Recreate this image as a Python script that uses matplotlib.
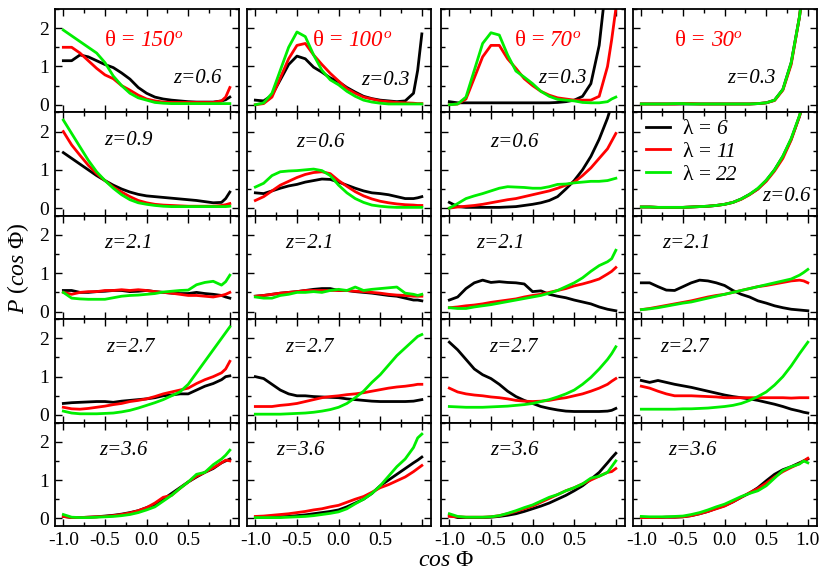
import matplotlib
matplotlib.use("Agg")
import matplotlib.pyplot as plt
from matplotlib.ticker import MultipleLocator

plt.rcParams["font.family"] = ["Liberation Serif", "DejaVu Serif"]
plt.rcParams["mathtext.fontset"] = "custom"
plt.rcParams["mathtext.rm"] = "Liberation Serif"
plt.rcParams["mathtext.it"] = "Liberation Serif:italic"

# cos(Phi) sample points
cos_phi = [-1.0, -0.9, -0.8, -0.7, -0.6, -0.5, -0.4, -0.3, -0.2, -0.1, 0.0,
           0.1, 0.2, 0.3, 0.4, 0.5, 0.6, 0.7, 0.8, 0.9, 0.95, 1.0]

thetas = ["150", "100", "70", "30"]
lambdas = ["6", "11", "22"]
z_labels = [
    ["0.6", "0.3", "0.3", "0.3"],
    ["0.9", "0.6", "0.6", "0.6"],
    ["2.1", "2.1", "2.1", "2.1"],
    ["2.7", "2.7", "2.7", "2.7"],
    ["3.6", "3.6", "3.6", "3.6"],
]

# row 1
th150_r1_l6 = [1.15, 1.15, 1.3, 1.25, 1.15, 1.05, 0.97, 0.83, 0.67, 0.45, 0.3, 0.2, 0.15, 0.12, 0.1, 0.08, 0.07, 0.07, 0.07, 0.1, 0.13, 0.2]
th150_r1_l11 = [1.5, 1.5, 1.35, 1.15, 0.95, 0.78, 0.68, 0.5, 0.38, 0.25, 0.15, 0.1, 0.07, 0.06, 0.06, 0.06, 0.06, 0.06, 0.06, 0.1, 0.2, 0.45]
th150_r1_l22 = [1.95, 1.8, 1.65, 1.5, 1.35, 1.1, 0.75, 0.5, 0.3, 0.18, 0.12, 0.06, 0.04, 0.03, 0.03, 0.03, 0.03, 0.03, 0.03, 0.03, 0.03, 0.03]
th100_r1_l6 = [0.12, 0.1, 0.25, 0.65, 1.05, 1.27, 1.2, 0.98, 0.85, 0.7, 0.6, 0.45, 0.33, 0.22, 0.16, 0.12, 0.1, 0.08, 0.1, 0.3, 0.9, 1.85]
th100_r1_l11 = [0.0, 0.03, 0.2, 0.7, 1.2, 1.55, 1.6, 1.3, 1.05, 0.82, 0.62, 0.42, 0.3, 0.2, 0.15, 0.1, 0.08, 0.06, 0.05, 0.04, 0.03, 0.03]
th100_r1_l22 = [0.0, 0.05, 0.3, 0.9, 1.5, 1.9, 1.78, 1.3, 0.9, 0.65, 0.52, 0.35, 0.22, 0.12, 0.07, 0.04, 0.02, 0.02, 0.02, 0.02, 0.02, 0.02]
th70_r1_l6 = [0.08, 0.05, 0.05, 0.05, 0.05, 0.05, 0.05, 0.05, 0.05, 0.05, 0.05, 0.05, 0.05, 0.06, 0.08, 0.12, 0.22, 0.55, 1.55, 3.5, 5.0, 6.0]
th70_r1_l11 = [0.0, 0.02, 0.15, 0.7, 1.25, 1.55, 1.55, 1.2, 0.95, 0.68, 0.5, 0.35, 0.25, 0.18, 0.15, 0.12, 0.12, 0.12, 0.22, 1.0, 1.7, 2.5]
th70_r1_l22 = [0.0, 0.02, 0.2, 0.9, 1.6, 1.88, 1.82, 1.3, 0.88, 0.72, 0.55, 0.35, 0.22, 0.14, 0.12, 0.1, 0.06, 0.05, 0.05, 0.08, 0.15, 0.2]
th30_r1_l6 = [0.02, 0.02, 0.02, 0.02, 0.02, 0.02, 0.02, 0.02, 0.02, 0.02, 0.02, 0.02, 0.02, 0.02, 0.03, 0.05, 0.12, 0.4, 1.1, 2.3, 3.2, 4.0]
th30_r1_l11 = [0.02, 0.02, 0.02, 0.02, 0.02, 0.03, 0.03, 0.02, 0.02, 0.02, 0.02, 0.02, 0.02, 0.02, 0.03, 0.05, 0.11, 0.38, 1.05, 2.3, 3.2, 4.0]
th30_r1_l22 = [0.02, 0.02, 0.02, 0.02, 0.03, 0.03, 0.02, 0.02, 0.02, 0.02, 0.02, 0.02, 0.02, 0.02, 0.03, 0.05, 0.12, 0.4, 1.1, 2.3, 3.2, 4.0]

# row 2
th150_r2_l6 = [1.45, 1.3, 1.15, 1.0, 0.85, 0.72, 0.6, 0.5, 0.42, 0.36, 0.32, 0.3, 0.28, 0.26, 0.24, 0.22, 0.2, 0.17, 0.14, 0.15, 0.25, 0.42]
th150_r2_l11 = [2.0, 1.65, 1.38, 1.12, 0.9, 0.72, 0.55, 0.42, 0.3, 0.2, 0.14, 0.1, 0.08, 0.07, 0.06, 0.05, 0.05, 0.05, 0.05, 0.07, 0.09, 0.12]
th150_r2_l22 = [2.3, 1.95, 1.6, 1.25, 0.95, 0.72, 0.52, 0.35, 0.22, 0.14, 0.1, 0.07, 0.05, 0.04, 0.04, 0.04, 0.04, 0.04, 0.04, 0.04, 0.04, 0.05]
th100_r2_l6 = [0.4, 0.38, 0.45, 0.52, 0.58, 0.62, 0.68, 0.72, 0.76, 0.75, 0.68, 0.6, 0.52, 0.45, 0.4, 0.38, 0.35, 0.3, 0.25, 0.25, 0.27, 0.3]
th100_r2_l11 = [0.2, 0.3, 0.45, 0.6, 0.7, 0.8, 0.88, 0.93, 0.95, 0.9, 0.72, 0.57, 0.43, 0.32, 0.24, 0.18, 0.14, 0.11, 0.09, 0.08, 0.07, 0.07]
th100_r2_l22 = [0.55, 0.65, 0.85, 0.95, 0.97, 0.98, 1.0, 1.02, 0.98, 0.85, 0.6, 0.4, 0.25, 0.15, 0.08, 0.05, 0.03, 0.02, 0.02, 0.02, 0.02, 0.02]
th70_r2_l6 = [0.15, 0.04, 0.02, 0.02, 0.02, 0.02, 0.02, 0.03, 0.04, 0.07, 0.1, 0.14, 0.2, 0.3, 0.5, 0.72, 1.0, 1.35, 1.8, 2.35, 2.7, 3.0]
th70_r2_l11 = [0.0, 0.03, 0.05, 0.07, 0.1, 0.14, 0.18, 0.22, 0.25, 0.3, 0.35, 0.4, 0.45, 0.52, 0.6, 0.68, 0.85, 1.05, 1.3, 1.55, 1.75, 1.95]
th70_r2_l22 = [0.0, 0.12, 0.25, 0.32, 0.38, 0.45, 0.52, 0.56, 0.55, 0.54, 0.52, 0.52, 0.56, 0.62, 0.63, 0.66, 0.68, 0.7, 0.7, 0.72, 0.75, 0.78]
th30_r2_l6 = [0.03, 0.03, 0.02, 0.02, 0.02, 0.02, 0.03, 0.04, 0.05, 0.07, 0.1, 0.15, 0.24, 0.36, 0.5, 0.72, 1.0, 1.35, 1.8, 2.4, 2.8, 3.2]
th30_r2_l11 = [0.03, 0.03, 0.02, 0.02, 0.02, 0.02, 0.03, 0.04, 0.05, 0.07, 0.1, 0.15, 0.23, 0.35, 0.5, 0.7, 0.97, 1.3, 1.78, 2.4, 2.8, 3.2]
th30_r2_l22 = [0.03, 0.03, 0.02, 0.02, 0.02, 0.02, 0.03, 0.04, 0.05, 0.07, 0.1, 0.15, 0.24, 0.36, 0.52, 0.73, 1.0, 1.36, 1.82, 2.42, 2.8, 3.2]

# row 3
th150_r3_l6 = [0.55, 0.55, 0.5, 0.5, 0.52, 0.53, 0.55, 0.55, 0.52, 0.53, 0.55, 0.52, 0.5, 0.48, 0.47, 0.47, 0.5, 0.47, 0.45, 0.42, 0.38, 0.35]
th150_r3_l11 = [0.5, 0.45, 0.5, 0.52, 0.52, 0.55, 0.55, 0.57, 0.55, 0.57, 0.55, 0.52, 0.5, 0.48, 0.45, 0.42, 0.42, 0.4, 0.38, 0.42, 0.45, 0.5]
th150_r3_l22 = [0.5, 0.35, 0.33, 0.32, 0.32, 0.32, 0.36, 0.4, 0.42, 0.43, 0.45, 0.47, 0.51, 0.53, 0.55, 0.56, 0.7, 0.76, 0.79, 0.69, 0.78, 0.95]
th100_r3_l6 = [0.4, 0.42, 0.45, 0.48, 0.5, 0.52, 0.55, 0.58, 0.6, 0.6, 0.55, 0.55, 0.52, 0.5, 0.48, 0.45, 0.42, 0.4, 0.35, 0.3, 0.3, 0.28]
th100_r3_l11 = [0.4, 0.42, 0.45, 0.48, 0.5, 0.52, 0.55, 0.55, 0.55, 0.55, 0.55, 0.55, 0.53, 0.52, 0.5, 0.48, 0.45, 0.43, 0.42, 0.4, 0.4, 0.4]
th100_r3_l22 = [0.38, 0.35, 0.35, 0.42, 0.45, 0.5, 0.5, 0.52, 0.5, 0.55, 0.58, 0.55, 0.64, 0.55, 0.58, 0.6, 0.62, 0.64, 0.48, 0.45, 0.42, 0.45]
th70_r3_l6 = [0.3, 0.38, 0.6, 0.75, 0.82, 0.76, 0.78, 0.76, 0.75, 0.72, 0.52, 0.54, 0.45, 0.4, 0.36, 0.3, 0.25, 0.2, 0.12, 0.06, 0.04, 0.02]
th70_r3_l11 = [0.1, 0.12, 0.15, 0.17, 0.2, 0.24, 0.27, 0.3, 0.33, 0.38, 0.42, 0.45, 0.5, 0.55, 0.6, 0.67, 0.72, 0.78, 0.85, 0.98, 1.05, 1.15]
th70_r3_l22 = [0.1, 0.08, 0.08, 0.12, 0.15, 0.18, 0.22, 0.26, 0.3, 0.34, 0.38, 0.42, 0.48, 0.55, 0.65, 0.75, 0.88, 1.05, 1.2, 1.3, 1.38, 1.6]
th30_r3_l6 = [0.75, 0.75, 0.65, 0.56, 0.55, 0.65, 0.75, 0.82, 0.8, 0.75, 0.68, 0.55, 0.45, 0.38, 0.28, 0.22, 0.15, 0.1, 0.06, 0.04, 0.03, 0.02]
th30_r3_l11 = [0.05, 0.08, 0.12, 0.16, 0.2, 0.24, 0.28, 0.33, 0.38, 0.42, 0.45, 0.5, 0.55, 0.6, 0.65, 0.68, 0.72, 0.76, 0.8, 0.82, 0.8, 0.75]
th30_r3_l22 = [0.05, 0.07, 0.1, 0.14, 0.18, 0.22, 0.25, 0.3, 0.35, 0.4, 0.45, 0.5, 0.55, 0.6, 0.65, 0.7, 0.75, 0.8, 0.85, 0.95, 1.02, 1.1]

# row 4
th150_r4_l6 = [0.3, 0.32, 0.33, 0.34, 0.35, 0.35, 0.33, 0.36, 0.38, 0.4, 0.42, 0.45, 0.5, 0.52, 0.55, 0.55, 0.65, 0.75, 0.82, 0.92, 1.0, 1.02]
th150_r4_l11 = [0.2, 0.16, 0.15, 0.17, 0.2, 0.23, 0.27, 0.3, 0.35, 0.38, 0.42, 0.48, 0.55, 0.6, 0.65, 0.7, 0.82, 0.92, 1.0, 1.1, 1.2, 1.4]
th150_r4_l22 = [0.1, 0.05, 0.03, 0.03, 0.03, 0.04, 0.05, 0.08, 0.12, 0.18, 0.25, 0.32, 0.4, 0.5, 0.6, 0.8, 1.1, 1.4, 1.7, 2.0, 2.15, 2.3]
th100_r4_l6 = [1.0, 0.95, 0.8, 0.65, 0.55, 0.5, 0.5, 0.48, 0.47, 0.46, 0.45, 0.42, 0.4, 0.38, 0.36, 0.35, 0.35, 0.35, 0.35, 0.36, 0.38, 0.4]
th100_r4_l11 = [0.22, 0.22, 0.22, 0.25, 0.27, 0.3, 0.35, 0.4, 0.45, 0.48, 0.5, 0.53, 0.55, 0.58, 0.62, 0.66, 0.7, 0.73, 0.75, 0.78, 0.8, 0.8]
th100_r4_l22 = [0.02, 0.02, 0.02, 0.02, 0.03, 0.04, 0.05, 0.07, 0.1, 0.14, 0.2, 0.3, 0.45, 0.62, 0.85, 1.05, 1.3, 1.55, 1.75, 1.95, 2.05, 2.1]
th70_r4_l6 = [1.9, 1.7, 1.45, 1.2, 1.05, 0.95, 0.8, 0.62, 0.48, 0.38, 0.3, 0.22, 0.17, 0.13, 0.1, 0.09, 0.09, 0.09, 0.09, 0.1, 0.12, 0.17]
th70_r4_l11 = [0.7, 0.6, 0.55, 0.52, 0.5, 0.47, 0.45, 0.42, 0.38, 0.36, 0.35, 0.36, 0.38, 0.42, 0.45, 0.5, 0.55, 0.62, 0.7, 0.8, 0.88, 0.95]
th70_r4_l22 = [0.22, 0.21, 0.2, 0.2, 0.2, 0.21, 0.22, 0.23, 0.25, 0.27, 0.3, 0.35, 0.4, 0.47, 0.55, 0.65, 0.8, 0.98, 1.2, 1.45, 1.6, 1.78]
th30_r4_l6 = [0.9, 0.85, 0.9, 0.85, 0.8, 0.76, 0.72, 0.67, 0.62, 0.57, 0.52, 0.48, 0.45, 0.42, 0.38, 0.33, 0.28, 0.22, 0.15, 0.1, 0.07, 0.05]
th30_r4_l11 = [0.75, 0.7, 0.62, 0.55, 0.5, 0.5, 0.5, 0.49, 0.48, 0.47, 0.45, 0.45, 0.45, 0.45, 0.45, 0.45, 0.45, 0.45, 0.44, 0.45, 0.45, 0.45]
th30_r4_l22 = [0.15, 0.15, 0.15, 0.15, 0.15, 0.16, 0.16, 0.17, 0.18, 0.2, 0.22, 0.25, 0.3, 0.38, 0.48, 0.6, 0.78, 1.0, 1.28, 1.6, 1.75, 1.9]

# row 5
th150_r5_l6 = [0.05, 0.02, 0.02, 0.03, 0.04, 0.06, 0.08, 0.11, 0.15, 0.2, 0.28, 0.36, 0.5, 0.65, 0.8, 0.95, 1.08, 1.2, 1.3, 1.45, 1.5, 1.55]
th150_r5_l11 = [0.05, 0.02, 0.02, 0.03, 0.04, 0.05, 0.07, 0.1, 0.14, 0.2, 0.28, 0.4, 0.55, 0.6, 0.78, 0.95, 1.1, 1.2, 1.32, 1.45, 1.52, 1.5]
th150_r5_l22 = [0.1, 0.03, 0.02, 0.02, 0.03, 0.04, 0.05, 0.07, 0.1, 0.15, 0.22, 0.3, 0.45, 0.6, 0.78, 0.95, 1.15, 1.2, 1.4, 1.55, 1.65, 1.78]
th100_r5_l6 = [0.02, 0.02, 0.03, 0.04, 0.05, 0.07, 0.09, 0.12, 0.15, 0.18, 0.22, 0.3, 0.4, 0.5, 0.65, 0.85, 1.0, 1.15, 1.3, 1.45, 1.52, 1.6]
th100_r5_l11 = [0.05, 0.06, 0.08, 0.1, 0.12, 0.15, 0.18, 0.22, 0.25, 0.3, 0.34, 0.42, 0.5, 0.57, 0.68, 0.8, 0.88, 0.98, 1.08, 1.22, 1.3, 1.38]
th100_r5_l22 = [0.02, 0.02, 0.02, 0.02, 0.03, 0.04, 0.05, 0.07, 0.1, 0.13, 0.17, 0.25, 0.38, 0.5, 0.65, 0.85, 1.1, 1.35, 1.55, 1.85, 2.1, 2.2]
th70_r5_l6 = [0.08, 0.02, 0.02, 0.02, 0.02, 0.03, 0.05, 0.08, 0.12, 0.18, 0.25, 0.32, 0.4, 0.5, 0.6, 0.72, 0.85, 1.02, 1.2, 1.45, 1.58, 1.7]
th70_r5_l11 = [0.05, 0.04, 0.03, 0.03, 0.03, 0.04, 0.07, 0.12, 0.18, 0.25, 0.32, 0.42, 0.52, 0.62, 0.72, 0.8, 0.9, 1.0, 1.1, 1.2, 1.22, 1.3]
th70_r5_l22 = [0.12, 0.05, 0.03, 0.03, 0.03, 0.04, 0.07, 0.13, 0.2, 0.28, 0.35, 0.45, 0.55, 0.62, 0.72, 0.8, 0.9, 1.05, 1.1, 1.2, 1.35, 1.5]
th30_r5_l6 = [0.02, 0.02, 0.02, 0.03, 0.03, 0.04, 0.07, 0.12, 0.18, 0.26, 0.33, 0.43, 0.55, 0.66, 0.8, 0.98, 1.15, 1.27, 1.35, 1.45, 1.5, 1.55]
th30_r5_l11 = [0.02, 0.02, 0.02, 0.03, 0.03, 0.04, 0.07, 0.12, 0.18, 0.25, 0.32, 0.43, 0.55, 0.67, 0.78, 0.92, 1.08, 1.22, 1.33, 1.43, 1.5, 1.57]
th30_r5_l22 = [0.05, 0.04, 0.04, 0.04, 0.05, 0.06, 0.1, 0.15, 0.22, 0.3, 0.37, 0.47, 0.57, 0.65, 0.72, 0.85, 1.05, 1.25, 1.35, 1.42, 1.5, 1.45]

panels = [
    [(th150_r1_l6, th150_r1_l11, th150_r1_l22), (th100_r1_l6, th100_r1_l11, th100_r1_l22),
     (th70_r1_l6, th70_r1_l11, th70_r1_l22), (th30_r1_l6, th30_r1_l11, th30_r1_l22)],
    [(th150_r2_l6, th150_r2_l11, th150_r2_l22), (th100_r2_l6, th100_r2_l11, th100_r2_l22),
     (th70_r2_l6, th70_r2_l11, th70_r2_l22), (th30_r2_l6, th30_r2_l11, th30_r2_l22)],
    [(th150_r3_l6, th150_r3_l11, th150_r3_l22), (th100_r3_l6, th100_r3_l11, th100_r3_l22),
     (th70_r3_l6, th70_r3_l11, th70_r3_l22), (th30_r3_l6, th30_r3_l11, th30_r3_l22)],
    [(th150_r4_l6, th150_r4_l11, th150_r4_l22), (th100_r4_l6, th100_r4_l11, th100_r4_l22),
     (th70_r4_l6, th70_r4_l11, th70_r4_l22), (th30_r4_l6, th30_r4_l11, th30_r4_l22)],
    [(th150_r5_l6, th150_r5_l11, th150_r5_l22), (th100_r5_l6, th100_r5_l11, th100_r5_l22),
     (th70_r5_l6, th70_r5_l11, th70_r5_l22), (th30_r5_l6, th30_r5_l11, th30_r5_l22)],
]

colors = ["black", "#ff0000", "#00ee00"]

# z-label anchor (axes fraction, left/center) per panel
z_pos = [
    [(0.64, 0.33), (0.62, 0.31), (0.53, 0.33), (0.51, 0.33)],
    [(0.27, 0.73), (0.27, 0.71), (0.27, 0.71), (0.70, 0.19)],
    [(0.27, 0.73), (0.21, 0.73), (0.19, 0.73), (0.16, 0.73)],
    [(0.28, 0.73), (0.21, 0.73), (0.26, 0.73), (0.15, 0.73)],
    [(0.24, 0.73), (0.16, 0.73), (0.27, 0.73), (0.19, 0.73)],
]
title_x = [0.27, 0.36, 0.40, 0.23]

W, H = 823, 571
fig = plt.figure(figsize=(W / 100, H / 100), dpi=100)

col_left = [55, 247, 441, 633]
col_w = 184
row_top = 9
row_h = 103.4
red = "#ff0000"

for r in range(5):
    for c in range(4):
        top = row_top + r * row_h
        ax = fig.add_axes([col_left[c] / W, 1 - (top + row_h) / H, col_w / W, row_h / H])
        for vals, col in zip(panels[r][c], colors):
            ax.plot(cos_phi, vals, color=col, lw=2.0, solid_joinstyle="round")
        ax.set_xlim(-1.1, 1.11)
        ax.set_ylim(-0.2, 2.5)
        ax.xaxis.set_major_locator(MultipleLocator(0.5))
        ax.xaxis.set_minor_locator(MultipleLocator(0.25))
        ax.yaxis.set_major_locator(MultipleLocator(1))
        ax.yaxis.set_minor_locator(MultipleLocator(0.5))
        ax.tick_params(which="both", direction="in", top=True, right=True, width=1.0)
        ax.tick_params(which="major", length=5, labelsize=14, pad=4)
        ax.tick_params(which="minor", length=3)
        for sp in ax.spines.values():
            sp.set_linewidth(1.3)
        if c > 0:
            ax.set_yticklabels([])
        if r < 4:
            ax.set_xticklabels([])
        else:
            ticks = [-1.0, -0.5, 0.0, 0.5, 1.0]
            ax.set_xticks(ticks)
            labels = [f"{t:.1f}" for t in ticks]
            if c < 3:
                labels[-1] = ""
            ax.set_xticklabels(labels)
        zx, zy = z_pos[r][c]
        ax.text(zx, zy, "z=" + z_labels[r][c], transform=ax.transAxes, fontsize=15,
                style="italic", ha="left", va="center")
        if r == 0:
            t1 = ax.text(title_x[c], 0.7, "θ = ", transform=ax.transAxes, fontsize=16.5,
                         color=red, ha="left", va="center")
            t2 = ax.annotate(thetas[c], xy=(1, 0), xycoords=t1, va="bottom", ha="left",
                             fontsize=16.5, color=red, style="italic")
            ax.annotate("o", xy=(1, 1), xycoords=t2, va="top", ha="left",
                        fontsize=11, color=red, style="italic",
                        xytext=(0, 1), textcoords="offset points")
        if r == 1 and c == 3:
            for lam, col in zip(lambdas, colors):
                ax.plot([], [], color=col, lw=2.0, label="λ = ")
            leg = ax.legend(loc="upper left", bbox_to_anchor=(0.06, 0.955), frameon=False,
                            fontsize=15.5, handlelength=1.1, handletextpad=0.6,
                            labelspacing=0.12, borderpad=0.1, borderaxespad=0.0)
            for txt, lam in zip(leg.get_texts(), lambdas):
                ax.annotate(lam, xy=(1, 0), xycoords=txt, va="bottom", ha="left",
                            fontsize=15.5, style="italic", zorder=10)

fig.text(18 / W, 1 - 268 / H, "$P\\ (\\mathit{cos}\\ \\Phi)$", rotation=90,
         fontsize=17, ha="center", va="center")
fig.text(446 / W, 1 - 561 / H, "$\\mathit{cos}\\ \\Phi$", fontsize=17,
         ha="center", va="center")

fig.savefig("out.png", dpi=100)
